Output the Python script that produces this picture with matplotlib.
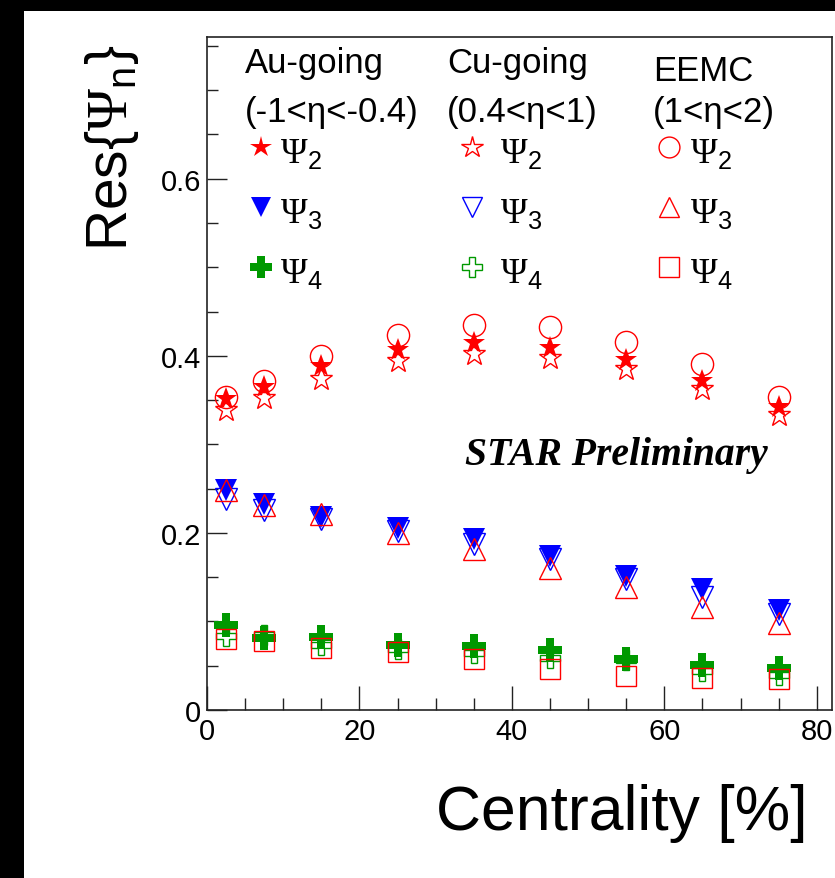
import matplotlib
matplotlib.use("Agg")
import matplotlib.pyplot as plt
from matplotlib.ticker import MultipleLocator, FuncFormatter
from matplotlib.patches import Rectangle


# centrality bins and event plane resolutions per detector / harmonic
centrality = [2.5, 7.5, 15, 25, 35, 45, 55, 65, 75]

au_psi2 = [0.351, 0.365, 0.389, 0.406, 0.414, 0.409, 0.395, 0.371, 0.342]
au_psi3 = [0.249, 0.233, 0.218, 0.205, 0.193, 0.174, 0.151, 0.137, 0.113]
au_psi4 = [0.096, 0.081, 0.082, 0.073, 0.072, 0.068, 0.058, 0.051, 0.047]

cu_psi2 = [0.339, 0.352, 0.374, 0.394, 0.402, 0.397, 0.385, 0.363, 0.333]
cu_psi3 = [0.238, 0.226, 0.216, 0.202, 0.187, 0.170, 0.148, 0.128, 0.108]
cu_psi4 = [0.084, 0.085, 0.073, 0.069, 0.064, 0.059, 0.056, 0.044, 0.039]

eemc_psi2 = [0.354, 0.372, 0.400, 0.424, 0.435, 0.432, 0.416, 0.391, 0.354]
eemc_psi3 = [0.248, 0.231, 0.221, 0.200, 0.182, 0.160, 0.139, 0.116, 0.098]
eemc_psi4 = [0.080, 0.078, 0.070, 0.066, 0.058, 0.046, 0.038, 0.036, 0.035]

column_titles = ["Au-going", "Cu-going", "EEMC"]
column_ranges = ["(-1<η<-0.4)", "(0.4<η<1)", "(1<η<2)"]
harmonics = ["2", "3", "4"]

RED = "#ff0000"
BLUE = "#0000ff"
GREEN = "#009900"

plt.rcParams["font.family"] = ["Liberation Sans", "DejaVu Sans"]
plt.rcParams["mathtext.fontset"] = "custom"
plt.rcParams["mathtext.rm"] = "Liberation Serif"
plt.rcParams["mathtext.sf"] = "Liberation Sans"
plt.rcParams["mathtext.it"] = "Liberation Sans:italic"

W, H = 835, 879
fig = plt.figure(figsize=(W / 100, H / 100), dpi=100)
fig.patch.set_facecolor("white")

# black frame strips on the top and left
fig.patches.append(Rectangle((0, 0), 24 / W, 1, transform=fig.transFigure,
                             facecolor="black", edgecolor="none", zorder=0))
fig.patches.append(Rectangle((0, 1 - 12 / H), 1, 12 / H, transform=fig.transFigure,
                             facecolor="black", edgecolor="none", zorder=0))

ax_l, ax_r, ax_t, ax_b = 207, 832, 38, 711
ax = fig.add_axes([ax_l / W, 1 - ax_b / H, (ax_r - ax_l) / W, (ax_b - ax_t) / H])
ax.set_xlim(0, 82)
ax.set_ylim(0, 0.76)

# marker style per (detector, harmonic): marker, colour, filled, size
styles = {
    ("au", 0): ("*", RED, True, 17),
    ("au", 1): ("v", BLUE, True, 16),
    ("au", 2): ("P", GREEN, True, 17),
    ("cu", 0): ("*", RED, False, 17),
    ("cu", 1): ("v", BLUE, False, 16),
    ("cu", 2): ("P", GREEN, False, 15),
    ("eemc", 0): ("o", RED, False, 16),
    ("eemc", 1): ("^", RED, False, 16),
    ("eemc", 2): ("s", RED, False, 15),
}

series = {
    "au": [au_psi2, au_psi3, au_psi4],
    "cu": [cu_psi2, cu_psi3, cu_psi4],
    "eemc": [eemc_psi2, eemc_psi3, eemc_psi4],
}


def marker_kw(key):
    m, c, filled, ms = styles[key]
    if filled:
        return dict(marker=m, markersize=ms, markerfacecolor=c, markeredgecolor=c,
                    markeredgewidth=0, linestyle="none")
    return dict(marker=m, markersize=ms, markerfacecolor="none", markeredgecolor=c,
                markeredgewidth=1.0, linestyle="none")


for det in ["au", "cu", "eemc"]:
    for i, vals in enumerate(series[det]):
        ax.plot(centrality, vals, **marker_kw((det, i)))

# axes look: ticks inside, left/bottom only
for s in ax.spines.values():
    s.set_linewidth(1.2)
    s.set_color("#222222")
ax.xaxis.set_major_locator(MultipleLocator(20))
ax.xaxis.set_minor_locator(MultipleLocator(5))
ax.yaxis.set_major_locator(MultipleLocator(0.2))
ax.yaxis.set_minor_locator(MultipleLocator(0.05))
ax.yaxis.set_major_formatter(FuncFormatter(lambda v, p: "%g" % round(v, 2)))
ax.tick_params(axis="both", which="both", direction="in", top=False, right=False,
               width=1, color="#222222", labelsize=21)
ax.tick_params(axis="x", which="major", length=17, pad=5)
ax.tick_params(axis="x", which="minor", length=8.5)
ax.tick_params(axis="y", which="major", length=14.5, pad=4)
ax.tick_params(axis="y", which="minor", length=7.7)

# axis titles
fig.text(112 / W, 1 - 44 / H, r"Res{$\Psi_{\mathsf{n}}$}", rotation=90,
         ha="center", va="top", fontsize=41)
fig.text(808 / W, 1 - 830 / H, "Centrality [%]", ha="right", va="baseline", fontsize=45)

# STAR label
fig.text(465 / W, 1 - 465 / H, "STAR Preliminary", family="Liberation Serif",
         weight="bold", style="italic", fontsize=28.5, ha="left", va="baseline")

# legend block: three columns, header + one row per harmonic
title_x = [245, 447, 653]
title_y = [73, 73, 81]
marker_x = [261, 472, 669]
psi_x = [280, 500, 690]
row_y = [148, 208, 268]
for col, det in enumerate(["au", "cu", "eemc"]):
    fig.text(title_x[col] / W, 1 - title_y[col] / H, column_titles[col],
             fontsize=25, ha="left", va="baseline")
    fig.text(title_x[col] / W, 1 - 122 / H, column_ranges[col],
             fontsize=25, ha="left", va="baseline")
    for i, n in enumerate(harmonics):
        kw = marker_kw((det, i))
        kw["markersize"] = kw["markersize"] - 1
        ax.plot([marker_x[col] / W], [1 - row_y[i] / H], transform=fig.transFigure,
                clip_on=False, **kw)
        fig.text(psi_x[col] / W, 1 - (row_y[i] + 15) / H, r"$\Psi_{\mathsf{%s}}$" % n,
                 fontsize=26, ha="left", va="baseline")

fig.savefig("out.png", dpi=100, facecolor="white")
